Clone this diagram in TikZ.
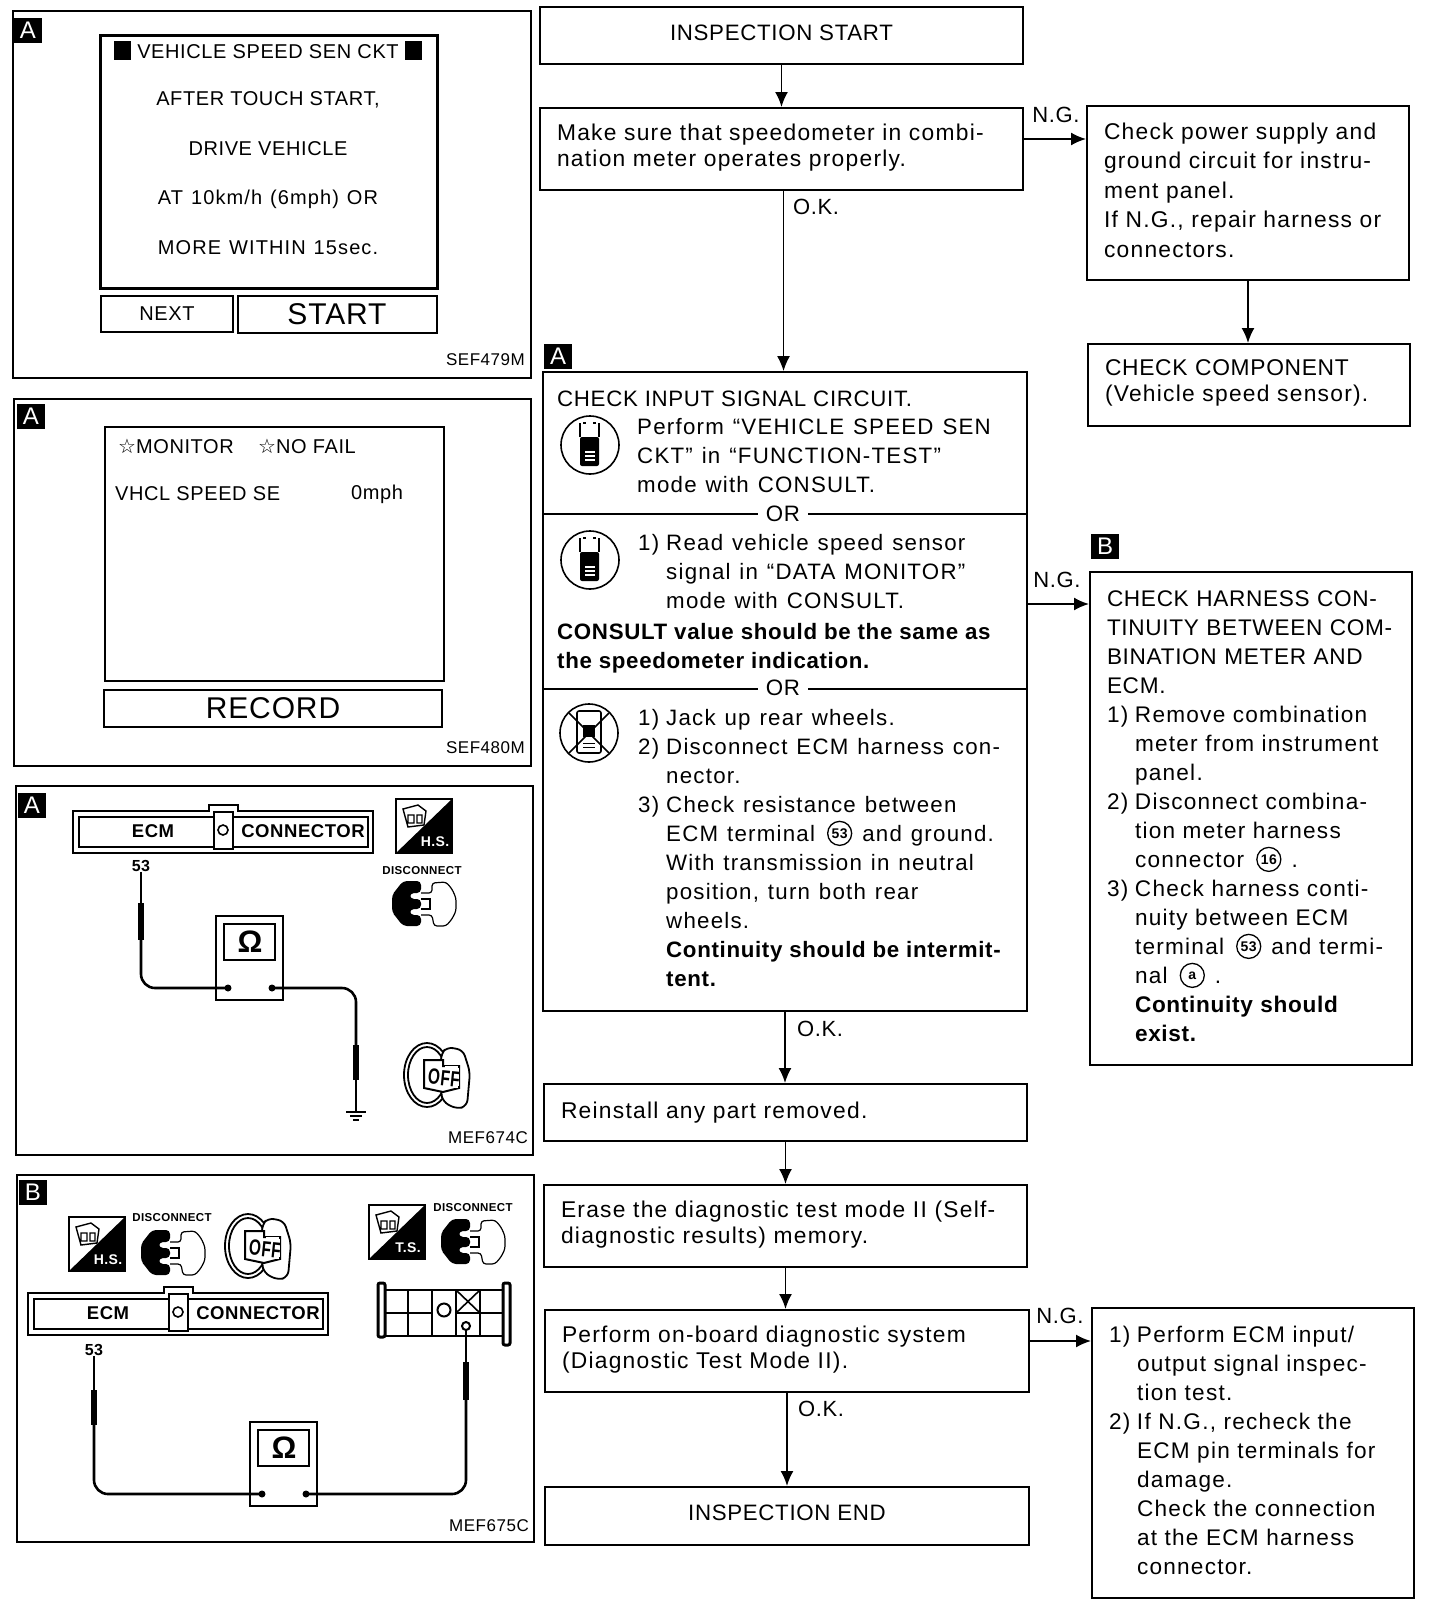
\documentclass[tikz,border=0pt]{standalone}
\usepackage{fontspec}
\setmainfont[LetterSpace=5.5,WordSpace=1.2,BoldFeatures={LetterSpace=3,WordSpace=1}]{Liberation Sans}
\newfontfamily\capfont[LetterSpace=3]{Liberation Sans}
\newfontfamily\symfont{DejaVu Sans}
\usetikzlibrary{arrows.meta,positioning,calc}
% font helpers
\newcommand{\fnt}[2]{\fontsize{#1}{#2}\selectfont}
\newcommand{\itm}[1]{\makebox[28pt][l]{#1}}
\newcommand{\dn}[1]{\rule[-#1pt]{0pt}{0pt}}
\newcommand{\cnum}[1]{\hspace{12pt}\tikz[baseline={([yshift=-8pt]cn.center)}]\node[circle,draw,line width=1.3pt,text width={},align=center,
  inner sep=0pt,minimum size=24pt,font=\capfont\bfseries\fnt{14}{14}] (cn) {#1};\hspace{10pt}}
\tikzset{
  ecmconn/.pic={
    \draw[line width=2pt,fill=white] (0,6) -- (136,6) -- (136,0) -- (165,0) -- (165,6) -- (300,6) -- (300,48) -- (0,48) -- cycle;
    \draw[line width=2pt] (6,12) rectangle (295,42);
    \draw[line width=2pt,fill=white] (141,7) rectangle (160,44);
    \draw[line width=1.6pt] (150,25) circle (5);
    \node[font=\bfseries\fnt{18.5}{19}] (-e) at (80,26) {ECM};
    \node[font=\bfseries\fnt{18.5}{19}] (-c) at (230,26) {CONNECTOR};
  },
  meter/.pic={
    \draw[line width=1.6pt] (0,0) rectangle (67,84);
    \draw[line width=1.6pt] (8,8) rectangle (59,44);
    \node[font=\bfseries\fnt{31}{31}] (-o) at (34,26) {Ω};
    \fill (12,72) circle (3.5);
    \fill (56,72) circle (3.5);
    \coordinate (-dl) at (12,72);
    \coordinate (-dr) at (56,72);
  },
  sqicon/.pic={
    \draw[line width=1.6pt] (0,0) rectangle (56,54);
    \fill (56,0) -- (56,54) -- (0,54) -- cycle;
    \node[white,font=\capfont\bfseries\fnt{14}{14}] (-t) at (39,43) {#1};
    \draw[line width=1.4pt] (7,10) -- (22,6) -- (30,12) -- (28,26) -- (12,28) -- cycle (12,16) rectangle (18,24) (21,16) rectangle (26,24);
  },
  plug/.pic={
    \fill[rounded corners=4pt] (29,0) -- (11,0) -- (4,9) -- (0,14) -- (0,31) -- (4,36) -- (11,45) -- (29,45) -- (29,34)
      -- (18,34) -- (18,28) -- (29,28) -- (29,18) -- (18,18) -- (18,12) -- (29,12) -- cycle;
    \draw[line width=1.2pt,rounded corners=3pt] (29,12) -- (40,12) -- (40,2) -- (54,1) -- (60,8) -- (64,17) -- (64,30)
      -- (60,38) -- (54,45) -- (42,45) -- (40,34) -- (29,34);
    \draw[line width=1.2pt] (29,18) -- (38,18) -- (38,28) -- (29,28);
  },
  keyoff/.pic={
    \draw[line width=1.8pt] (24,33) ellipse (23 and 32);
    \draw[line width=1.8pt] (24,33) ellipse (19 and 28);
    \draw[line width=1.8pt,fill=white,rounded corners=6pt] (38,12) -- (44,5) -- (60,8) -- (67,30) -- (64,64) -- (54,67) -- (40,60) -- (38,50) -- cycle;
    \draw[line width=2pt,fill=white] (21,18) -- (40,18) -- (40,24) -- (56,24) -- (56,46) -- (40,50) -- (21,46) -- cycle;
    \draw[white,line width=2.4pt] (41,25.5) -- (41,47) (42,25.5) -- (55,25.5) (42,45) -- (55,45) (55,26) -- (55,44);
    \node[rotate=-6,xscale=.7,font=\bfseries\fnt{22}{22}] (-t) at (41,36) {OFF};
  },
  consult/.pic={
    \draw[line width=1.6pt] (0,0) circle (29);
    \draw[line width=2pt] (-10,-8) -- (-10,-22) (-7,-22) -- (-4,-22) (9,-8) -- (9,-22) (6,-22) -- (3,-22);
    \fill[rounded corners=2pt] (-10,-8) rectangle (9,21);
    \draw[white,line width=1.2pt] (-5,7) -- (5,7) (-5,11) -- (5,11) (-5,15) -- (5,15);
  },
  noconsult/.pic={
    \draw[line width=1.6pt] (0,0) circle (29);
    \draw[line width=1.6pt] (-20,-20) -- (20,20) (-20,20) -- (20,-20);
    \draw[line width=1.6pt,rounded corners=2pt] (-12,-22) rectangle (12,20);
    \fill (-6,-8) rectangle (6,4);
    \draw[line width=1pt] (-6,10) -- (6,10) (-6,14) -- (6,14);
  }
}
\begin{document}
\begin{tikzpicture}[x=1pt,y=-1pt,
  panel/.style={draw,line width=1.6pt,anchor=north west,inner sep=0pt},
  scrbox/.style={draw,line width=2pt,inner sep=0pt,font=\capfont\fnt{20}{20}},
  scrtxt/.style={font=\capfont\fnt{20}{20},inner sep=0pt},
  tag/.style={fill=black,text=white,inner sep=0pt,minimum width=28pt,minimum height=25pt,font=\capfont\fnt{24}{24}},
  code/.style={anchor=east,inner sep=0pt,font=\capfont\fnt{17}{17}},
  lab/.style={inner sep=0pt,font=\capfont\fnt{22}{22}},
  num/.style={inner sep=0pt,font=\bfseries\fnt{16}{16}},
  dis/.style={inner sep=0pt,font=\capfont\bfseries\fnt{11.5}{11.5}},
  fbox/.style={draw,line width=2pt,anchor=north west,inner xsep=17pt,inner ysep=0pt,align=left,fill=white,font=\fnt{22.8}{25.6}},
  cbox/.style={draw,line width=2pt,anchor=north west,inner sep=0pt,font=\capfont\fnt{22.3}{25.6}},
  wtxt/.style={anchor=north west,inner sep=0pt,align=left,font=\fnt{22.3}{29}},
  flow/.style={line width=1.8pt,-{Latex[length=15pt,width=13pt]}},
  wire/.style={line width=2.6pt,rounded corners=14pt},
  probe/.style={line width=6pt},
  tipl/.style={line width=1.2pt}
]
  \useasboundingbox (0,0) rectangle (1440,1604);
  \fill[white] (0,0) rectangle (1440,1604);
  % Screen A
  \node[panel,minimum width=518pt,minimum height=367pt] (pa) at (12,10) {};
  \node[tag] (ta) at (28,30) {A};
  \node[scrbox,line width=2.6pt,anchor=north west,minimum width=337pt,minimum height=253pt] (scr) at (99,34) {};
  \fill (114,41) rectangle (131,60);
  \fill (405,41) rectangle (422,60);
  \node[scrtxt] (l1) at (268,52) {VEHICLE SPEED SEN CKT};
  \node[scrtxt] (l2) at (268,100) {AFTER TOUCH START,};
  \node[scrtxt] (l3) at (268,149) {DRIVE VEHICLE};
  \node[scrtxt,font=\fnt{20}{20}] (l4) at (268,199) {AT 10km/h (6mph) OR};
  \node[scrtxt,font=\fnt{20}{20}] (l5) at (268,248) {MORE WITHIN 15sec.};
  \node[scrbox,minimum width=132pt,minimum height=36pt] (next) at (167,314) {NEXT};
  \node[scrbox,minimum width=199pt,minimum height=37pt,font=\capfont\fnt{30}{30}] (startb) at (337,314) {START};
  \node[code] (ca) at (525,360) {SEF479M};
  % Screen B
  \node[panel,minimum width=517pt,minimum height=367pt] (pb) at (13,398) {};
  \node[tag] (tb) at (31,416) {A};
  \node[scrbox,anchor=north west,minimum width=339pt,minimum height=254pt] (mon) at (104,426) {};
  \node[scrtxt,anchor=west] (m1) at (118,446) {{\symfont ☆}MONITOR};
  \node[scrtxt,anchor=west] (m2) at (258,446) {{\symfont ☆}NO FAIL};
  \node[scrtxt,anchor=west] (m3) at (115,494) {VHCL SPEED SE};
  \node[scrtxt,anchor=west] (m4) at (351,494) {0mph};
  \node[scrbox,minimum width=338pt,minimum height=37pt,font=\capfont\fnt{30}{30}] (rec) at (273,708) {RECORD};
  \node[code] (cb) at (525,748) {SEF480M};
  % Hook up A
  \node[panel,minimum width=517pt,minimum height=369pt] (pc) at (15,785) {};
  \node[tag] (tc) at (32,805) {A};
  \pic (ea) at (73,805) {ecmconn};
  \pic at (396,799) {sqicon=H.S.};
  \node[dis] (da) at (422,871) {DISCONNECT};
  \pic at (392,881) {plug};
  \pic at (403,1042) {keyoff};
  \pic (ma) at (216,916) {meter};
  \node[num] (na) at (141,866) {53};
  \coordinate (a1) at (141,903);
  \coordinate (a2) at (141,940);
  \coordinate (a3) at (356,1045);
  \coordinate (a4) at (356,1080);
  \coordinate (a5) at (356,1112);
  \draw[tipl] (na.south) -- (a1);
  \draw[probe] (a1) -- (a2);
  \draw[wire] (a2) |- (ma-dl);
  \draw[wire] (ma-dr) -| (a3);
  \draw[probe] (a3) -- (a4);
  \draw[tipl] (a4) -- (a5);
  \draw[line width=1.4pt] ($(a5)+(-10,0)$) -- ($(a5)+(10,0)$) ($(a5)+(-6,4)$) -- ($(a5)+(6,4)$) ($(a5)+(-3,8)$) -- ($(a5)+(3,8)$);
  \node[code] (cc) at (528,1138) {MEF674C};
  % Hook up B
  \node[panel,minimum width=517pt,minimum height=367pt] (pd) at (16,1174) {};
  \node[tag] (td) at (33,1192) {B};
  \pic (eb) at (28,1287) {ecmconn};
  \pic at (69,1217) {sqicon=H.S.};
  \node[dis] (db) at (172,1218) {DISCONNECT};
  \pic at (141,1230) {plug};
  \pic at (224,1213) {keyoff};
  \pic at (369,1205) {sqicon=T.S.};
  \node[dis] (dc) at (473,1208) {DISCONNECT};
  \pic at (441,1219) {plug};
  % T.S. connector
  \draw[line width=3pt,fill=white,rounded corners=2pt] (378,1283) rectangle (385,1337);
  \draw[line width=3pt,fill=white,rounded corners=2pt] (503,1283) rectangle (510,1345);
  \draw[line width=2.2pt] (385,1290) rectangle (503,1336);
  \draw[line width=2.2pt] (385,1313) -- (432,1313) (456,1313) -- (503,1313);
  \foreach \xl in {408,432,456,480} \draw[line width=2.2pt] (\xl,1290) -- (\xl,1336);
  \draw[line width=1.6pt] (456,1290) -- (480,1313) (480,1290) -- (456,1313);
  \draw[line width=2pt] (444,1310) circle (6.5);
  \draw[line width=2pt] (466,1326) circle (4);
  \coordinate (tsa) at (466,1331);
  \pic (mb) at (250,1422) {meter};
  \node[num] (nb) at (94,1350) {53};
  \coordinate (b1) at (94,1390);
  \coordinate (b2) at (94,1425);
  \coordinate (b3) at (466,1362);
  \coordinate (b4) at (466,1400);
  \draw[tipl] (nb.south) -- (b1);
  \draw[probe] (b1) -- (b2);
  \draw[wire] (b2) |- (mb-dl);
  \draw[wire] (mb-dr) -| (b4);
  \draw[probe] (b4) -- (b3);
  \draw[tipl] (b3) -- (tsa);
  \node[code] (cd) at (529,1526) {MEF675C};
  % Flow chart
  \node[cbox,minimum width=483pt,minimum height=57pt] (start) at (539,6) {INSPECTION START\dn{6}};
  \node[fbox,text width=449pt,minimum height=82pt] (speedo) at (539,107) {Make sure that speedometer in combi-\\nation meter operates properly.\dn{8}};
  \node[fbox,text width=288pt,minimum height=174pt,font=\fnt{22.8}{29.4}] (power) at (1086,105) {Check power supply and\\ground circuit for instru-\\ment panel.\\If N.G., repair harness or\\connectors.\dn{6}};
  \node[fbox,text width=288pt,minimum height=82pt] (comp) at (1087,343) {{\capfont CHECK COMPONENT}\\(Vehicle speed sensor).\dn{9}};
  \node[tag] (tf) at (558,356) {A};
  \node[draw,line width=2pt,anchor=north west,inner sep=0pt,minimum width=484pt,minimum height=639pt] (check) at (542,371) {};
  \draw[line width=2pt] (check.west |- 0,514) -- (check.east |- 0,514);
  \draw[line width=2pt] (check.west |- 0,689) -- (check.east |- 0,689);
  \node[fill=white,inner xsep=8pt,inner ysep=0pt,font=\capfont\fnt{22.3}{22.3}] (or1) at (783,514) {OR};
  \node[fill=white,inner xsep=8pt,inner ysep=0pt,font=\capfont\fnt{22.3}{22.3}] (or2) at (783,688) {OR};
  \node[wtxt,font=\capfont\fnt{22.3}{29}] (c1) at (557,391) {CHECK INPUT SIGNAL CIRCUIT.};
  \pic at (590,445) {consult};
  \node[wtxt] (c2) at (637,418) {Perform ``VEHICLE SPEED SEN\\CKT'' in ``FUNCTION-TEST''\\mode with CONSULT.};
  \pic at (590,560) {consult};
  \node[wtxt] (c3) at (638,534) {\itm{1)}Read vehicle speed sensor\\\itm{}signal in ``DATA MONITOR''\\\itm{}mode with CONSULT.};
  \node[wtxt,font=\bfseries\fnt{22.3}{29}] (c4) at (557,623) {CONSULT value should be the same as\\the speedometer indication.};
  \pic at (589,733) {noconsult};
  \node[wtxt] (c5) at (638,709) {\itm{1)}Jack up rear wheels.\\\itm{2)}Disconnect ECM harness con-\\\itm{}nector.\\\itm{3)}Check resistance between\\\itm{}ECM terminal\cnum{53}and ground.\\\itm{}With transmission in neutral\\\itm{}position, turn both rear\\\itm{}wheels.\\\itm{}\textbf{Continuity should be intermit-}\\\itm{}\textbf{tent.}};
  \node[tag] (tg) at (1105,546) {B};
  \node[fbox,text width=288pt,minimum height=493pt,font=\fnt{22.6}{29}] (harn) at (1089,571) {{\capfont CHECK HARNESS CON-\\TINUITY BETWEEN COM-\\BINATION METER AND\\ECM.}\\\itm{1)}Remove combination\\\itm{}meter from instrument\\\itm{}panel.\\\itm{2)}Disconnect combina-\\\itm{}tion meter harness\\\itm{}connector\cnum{16}.\\\itm{3)}Check harness conti-\\\itm{}nuity between ECM\\\itm{}terminal\cnum{53}and termi-\\\itm{}nal\cnum{a}.\\\itm{}\textbf{Continuity should}\\\itm{}\textbf{exist.}\dn{5}};
  \node[fbox,text width=449pt,minimum height=57pt] (reins) at (543,1083) {Reinstall any part removed.\dn{2}};
  \node[fbox,text width=449pt,minimum height=82pt] (erase) at (543,1184) {Erase the diagnostic test mode II (Self-\\diagnostic results) memory.\dn{7}};
  \node[fbox,text width=450pt,minimum height=82pt] (obd) at (544,1309) {Perform on-board diagnostic system\\(Diagnostic Test Mode II).\dn{7}};
  \node[cbox,minimum width=484pt,minimum height=58pt] (iend) at (544,1486) {INSPECTION END\dn{6}};
  \node[fbox,text width=288pt,minimum height=290pt,font=\fnt{22.6}{29}] (ecm) at (1091,1307) {\itm{1)}Perform ECM input/\\\itm{}output signal inspec-\\\itm{}tion test.\\\itm{2)}If N.G., recheck the\\\itm{}ECM pin terminals for\\\itm{}damage.\\\itm{}Check the connection\\\itm{}at the ECM harness\\\itm{}connector.\dn{6}};
  % Arrows
  \draw[flow] (start) -- (start |- speedo.north);
  \draw[flow,line width=1.2pt] ([xshift=2pt]speedo.south) -- ([xshift=2pt]speedo.south |- check.north);
  \draw[flow] (speedo.east |- 0,139) -- (power.west |- 0,139);
  \draw[flow] (power.south) -- (power.south |- comp.north);
  \draw[flow] (check.east |- 0,604) -- (harn.west |- 0,604);
  \draw[flow] (check.south) -- (check.south |- reins.north);
  \draw[flow] (reins.south) -- (reins.south |- erase.north);
  \draw[flow] (erase.south) -- (erase.south |- obd.north);
  \draw[flow] (obd.south) -- (obd.south |- iend.north);
  \draw[flow] (obd.east |- 0,1341) -- (ecm.west |- 0,1341);
  % Arrow labels
  \node[lab] (ng1) at (1056,115) {N.G.};
  \node[lab] (ok1) at (816,207) {O.K.};
  \node[lab] (ng2) at (1057,580) {N.G.};
  \node[lab] (ok2) at (820,1029) {O.K.};
  \node[lab] (ng3) at (1060,1316) {N.G.};
  \node[lab] (ok3) at (821,1409) {O.K.};
\end{tikzpicture}
\end{document}
